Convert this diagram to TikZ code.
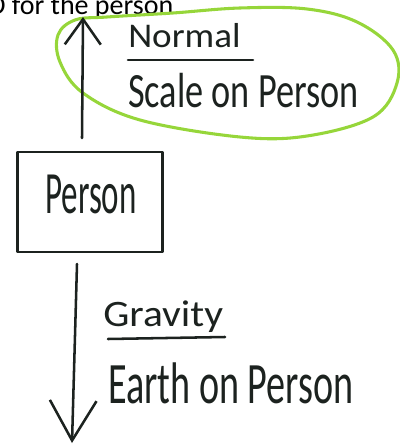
\documentclass[tikz,border=0pt]{standalone}
\usepackage{fontspec}
\setmainfont{Carlito}
\usetikzlibrary{arrows.meta}
\definecolor{ink}{RGB}{28,34,31}
\definecolor{hilite}{RGB}{150,214,58}
\tikzset{
  pen/.style={draw=ink, line width=1.9pt, line cap=round, line join=round},
  hand/.style={inner sep=0pt, text=ink},
  upbarb/.style={-{Straight Barb[length=19pt, width=27pt, line width=1.9pt]}},
  downbarb/.style={-{Straight Barb[length=30pt, width=35pt, line width=1.9pt]}},
}
\newcommand{\hw}[3]{\scalebox{#1}[1]{\fontsize{#2}{#2}\selectfont #3}}
\begin{document}
\begin{tikzpicture}[x=0.75pt,y=-0.75pt]
\useasboundingbox (0,0) rectangle (399,445);
% title (cut off at top)
\node[inner sep=0pt, anchor=base west, text=black] (title) at (-12,15) {\fontsize{21pt}{21pt}\selectfont D for the person};
% green loop
\draw[hilite, line width=2.3pt] plot[smooth cycle, tension=0.6] coordinates {
  (58,35) (75,20) (107,17) (173,13) (240,8) (307,9) (357,22) (393,50)
  (397,83) (373,117) (307,136) (240,137) (140,120) (83,93) (60,62)};
% normal force labels
\node[hand, anchor=base west] (normal) at (128,48) {\hw{1.07}{26pt}{Normal}};
\coordinate (nl1) at (128,60);
\coordinate (nl2) at (253,60);
\draw[pen] (nl1) -- (nl2);
\node[hand, anchor=base west] (scale) at (128,108) {\hw{0.735}{37pt}{Scale on Person}};
% box
\node[pen, rectangle, minimum width=109pt, minimum height=75pt] (box) at (90,202) {};
\node[hand, anchor=base west] (person) at (45,213) {\hw{0.55}{45pt}{Person}};
% up arrow
\coordinate (ustart) at (82,138);
\coordinate (utip) at (83,17);
\draw[pen, upbarb] (ustart) -- (utip);
% down arrow
\coordinate (dstart) at (77,264);
\coordinate (dtip) at (72,443);
\draw[pen, downbarb] (dstart) -- (dtip);
% gravity labels
\node[hand, anchor=base west] (gravity) at (103,326) {\hw{1.11}{28pt}{Gravity}};
\coordinate (gl1) at (108,339);
\coordinate (gl2) at (225,337);
\draw[pen] (gl1) -- (gl2);
\node[hand, anchor=base west] (earth) at (108,403) {\hw{0.65}{44pt}{Earth on Person}};
\end{tikzpicture}
\end{document}
